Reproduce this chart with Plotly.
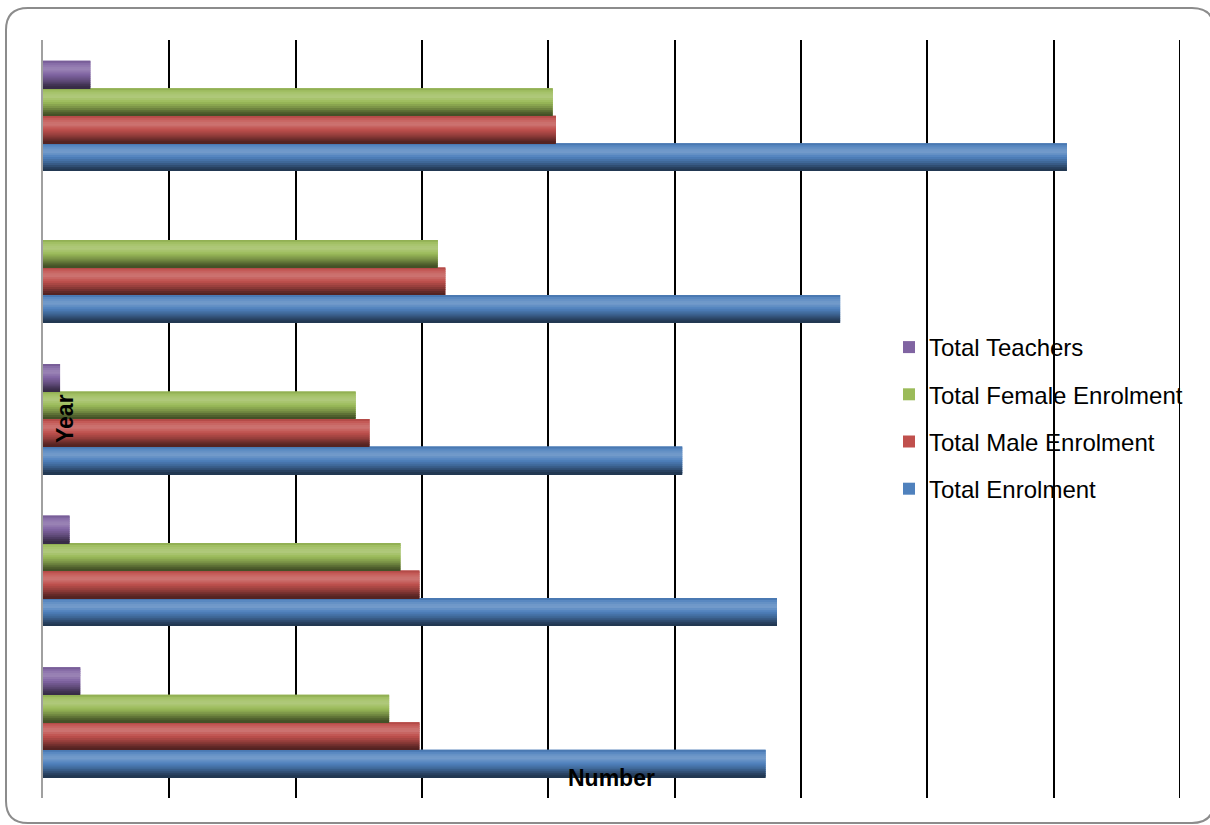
import plotly.graph_objects as go

# ---------------- data ----------------
years = ["Year 1", "Year 2", "Year 3", "Year 4", "Year 5"]  # bottom -> top (labels hidden in the reference)
total_enrolment = [11440, 11620, 10120, 12620, 16210]
total_male = [5960, 5960, 5170, 6370, 8120]
total_female = [5480, 5660, 4950, 6250, 8070]
total_teachers = [590, 420, 270, 0, 750]
x_tick_values = [0, 2000, 4000, 6000, 8000, 10000, 12000, 14000, 16000, 18000]

series_names = ["Total Enrolment", "Total Male Enrolment", "Total Female Enrolment", "Total Teachers"]
series_values = [total_enrolment, total_male, total_female, total_teachers]
series_colors = ["#4F81BD", "#C0504D", "#9BBB59", "#8064A2"]

# ---------------- style helpers ----------------
def hex_to_rgb(h):
    h = h.lstrip("#")
    return tuple(int(h[i:i + 2], 16) for i in (0, 2, 4))

def shade(color, f):
    r, g, b = hex_to_rgb(color)
    if f >= 1:
        t = f - 1
        r, g, b = r + (255 - r) * t, g + (255 - g) * t, b + (255 - b) * t
    else:
        r, g, b = r * f, g * f, b * f
    return "rgb(%d,%d,%d)" % (round(r), round(g), round(b))

# lightness profile from top (0) to bottom (1) of each bar -> cylinder look
profile_stops = [(0.0, 0.88), (0.12, 1.08), (0.3, 1.22), (0.5, 1.0), (0.7, 0.78), (0.88, 0.52), (1.0, 0.4)]

def profile(t):
    for (a, fa), (b, fb) in zip(profile_stops[:-1], profile_stops[1:]):
        if a <= t <= b:
            return fa + (fb - fa) * (t - a) / (b - a)
    return profile_stops[-1][1]

group_w = 0.726
bw = group_w / 4
n_strips = 14

fig = go.Figure()
# base bars (legend entries), added top series first so the legend lists Teachers first
for k in reversed(range(4)):
    name, vals, col = series_names[k], series_values[k], series_colors[k]
    base_off = -group_w / 2 + k * bw
    fig.add_trace(go.Bar(
        y=years, x=vals, orientation="h", name=name,
        marker=dict(color=col, line=dict(width=0)),
        offset=base_off, width=bw,
        legendgroup=name, showlegend=True,
    ))
# gradient strips on top of each base bar
for k in range(4):
    name, vals, col = series_names[k], series_values[k], series_colors[k]
    base_off = -group_w / 2 + k * bw
    for j in range(n_strips):
        t = (j + 0.5) / n_strips
        fig.add_trace(go.Bar(
            y=years, x=vals, orientation="h", name=name,
            marker=dict(color=shade(col, profile(t)), line=dict(width=0)),
            offset=base_off + bw - (j + 1) * bw / n_strips, width=bw / n_strips,
            legendgroup=name, showlegend=False, hoverinfo="skip",
        ))

L, R, T, B = 43, 30, 40, 27
W, H = 1210, 825
pw, ph = W - L - R, H - T - B

def px2paper(x, y):
    return (x - L) / pw, (H - B - y) / ph

# rounded border
x0, y0, x1, y1, r = 6, 8, 1214, 823, 22
def P(x, y):
    a, b = px2paper(x, y)
    return "%.5f,%.5f" % (a, b)
path = ("M " + P(x0 + r, y0) + " L " + P(x1 - r, y0) + " Q " + P(x1, y0) + " " + P(x1, y0 + r) +
        " L " + P(x1, y1 - r) + " Q " + P(x1, y1) + " " + P(x1 - r, y1) +
        " L " + P(x0 + r, y1) + " Q " + P(x0, y1) + " " + P(x0, y1 - r) +
        " L " + P(x0, y0 + r) + " Q " + P(x0, y0) + " " + P(x0 + r, y0) + " Z")

fig.update_layout(
    width=W, height=H,
    margin=dict(l=L, r=R, t=T, b=B, pad=0),
    barmode="overlay",
    paper_bgcolor="white", plot_bgcolor="white",
    font=dict(family="Liberation Sans, Arial, sans-serif", color="black"),
    xaxis=dict(range=[0, 18000], tickvals=x_tick_values, showticklabels=False,
               showgrid=True, gridcolor="black", gridwidth=2, zeroline=False,
               showline=False, ticks=""),
    yaxis=dict(type="category", showticklabels=False, showgrid=False,
               showline=True, linecolor="#A0A0A0", linewidth=2, ticks="",
               range=[-0.5, 4.5]),
    legend=dict(x=(889 - L) / pw, y=px2paper(0, 325)[1], xanchor="left", yanchor="top",
                traceorder="grouped", tracegroupgap=13,
                font=dict(size=24, family="Liberation Sans, Arial, sans-serif"),
                bgcolor="rgba(0,0,0,0)", itemwidth=30),
    shapes=[
        dict(type="line", xref="x", yref="paper", x0=x_tick_values[-1], x1=x_tick_values[-1],
             y0=0, y1=1, line=dict(color="black", width=2), layer="below"),
        dict(type="path", xref="paper", yref="paper", path=path,
             line=dict(color="#8C8C8C", width=2), fillcolor="rgba(0,0,0,0)", layer="above"),
    ],
    annotations=[
        dict(text="Number", xref="paper", yref="paper", x=0.5, y=px2paper(0, 778)[1],
             xanchor="center", yanchor="middle", showarrow=False,
             font=dict(size=23, weight="bold", color="black")),
        dict(text="Year", xref="paper", yref="paper", x=px2paper(65, 0)[0], y=0.5,
             xanchor="center", yanchor="middle", showarrow=False, textangle=-90,
             font=dict(size=23, weight="bold", color="black")),
    ],
    showlegend=True,
)

fig.write_html("out.html", config={"displayModeBar": False},
               post_script="document.body.style.margin='0';document.body.style.overflow='hidden';")
